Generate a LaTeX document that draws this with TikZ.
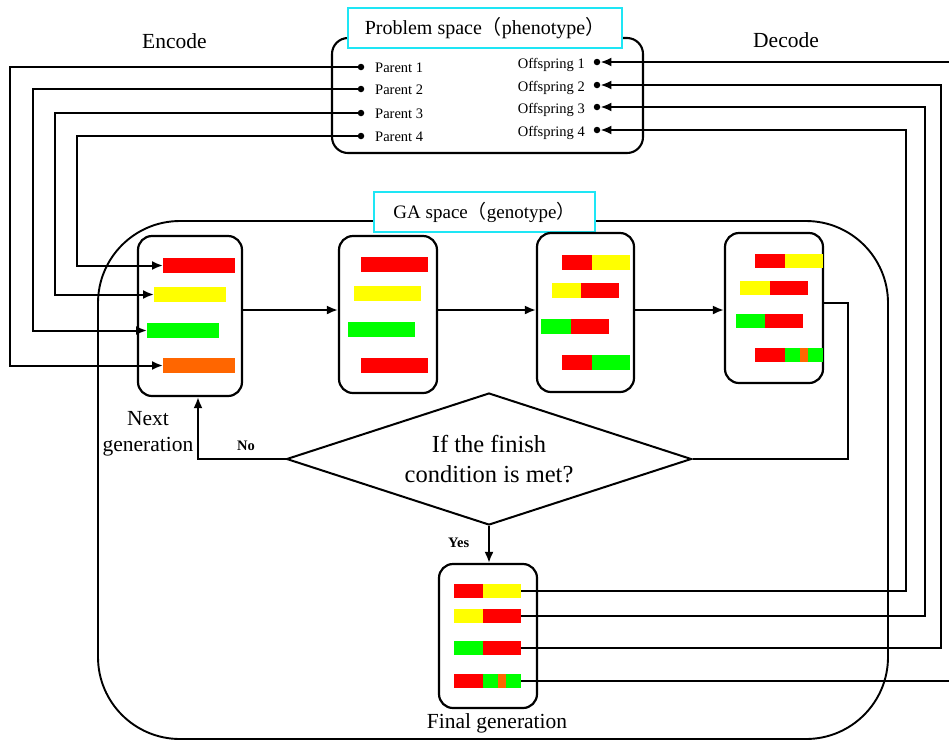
\documentclass[tikz,border=0pt]{standalone}
\usepackage{fontspec}
\setmainfont{Liberation Serif}
\newfontfamily\cjk{Noto Sans CJK SC}
\usetikzlibrary{arrows.meta,shapes.geometric}

\definecolor{gred}{RGB}{255,0,0}
\definecolor{gyellow}{RGB}{255,255,0}
\definecolor{ggreen}{RGB}{0,255,0}
\definecolor{gorange}{RGB}{255,102,0}
\definecolor{framecyan}{RGB}{30,230,245}

\begin{document}
\begin{tikzpicture}[x=1pt,y=-1pt,
  wire/.style={line width=2pt},
  arr/.style={line width=2pt,-{Latex[length=11pt,width=9pt]}},
  popbox/.style={draw,line width=2.2pt,rounded corners=14pt,inner sep=0pt},
  dot/.style={circle,fill=black,inner sep=0pt,minimum size=6.5pt},
  bar/.style={inner sep=0pt,minimum height=15pt,anchor=west},
  txt/.style={inner sep=0pt},
  small/.style={txt,font=\fontsize{14.5}{17}\selectfont},
  big/.style={txt,font=\fontsize{21.5}{26}\selectfont},
  tag/.style={draw=framecyan,fill=white,line width=1.6pt,inner sep=0pt,minimum height=40pt,font=\fontsize{20}{24}\selectfont}
]
\useasboundingbox (0,0) rectangle (949,740);

% ---------------- problem space ----------------
\draw[line width=2.1pt,rounded corners=16pt] (332,38) rectangle (643,153);
\node[tag,minimum width=274pt] (ps) at (485,28) {Problem space{\cjk （}phenotype{\cjk ）}};

\foreach \i/\y in {1/67,2/89,3/113,4/136}{
  \node[dot] (p\i) at (361,\y) {};
  \node[small,anchor=base west] at (375,\y+5.5) {Parent \i};
}
\foreach \i/\y in {1/62,2/85,3/107,4/130}{
  \node[dot] (o\i) at (597,\y) {};
  \node[small,anchor=base east] at (585,\y+6) {Offspring \i};
}

\node[big,anchor=base west] (enc) at (142,48) {Encode};
\node[big,anchor=base west] (dec) at (753,47) {Decode};

% ---------------- GA space ----------------
\draw[line width=1.9pt,rounded corners=82pt] (98,221) rectangle (888,739);
\node[tag,minimum width=221pt,font=\fontsize{19}{23}\selectfont] (ga) at (484.5,212) {GA space{\cjk （}genotype{\cjk ）}};

% population boxes
\node[popbox,minimum width=104pt,minimum height=160pt] (b1) at (190,316) {};
\node[popbox,minimum width=98pt,minimum height=157pt] (b2) at (388,314.5) {};
\node[popbox,minimum width=97pt,minimum height=159pt] (b3) at (585.5,312.5) {};
\node[popbox,minimum width=98pt,minimum height=150pt] (b4) at (774,308) {};
\node[popbox,minimum width=98pt,minimum height=144pt] (bf) at (488,636) {};

% chromosomes: initial population
\node[bar,fill=gred,minimum width=72pt] (g1) at (163,265.5) {};
\node[bar,fill=gyellow,minimum width=72pt] (g2) at (154,294.5) {};
\node[bar,fill=ggreen,minimum width=72pt] (g3) at (147,330.5) {};
\node[bar,fill=gorange,minimum width=72pt] (g4) at (163,365.5) {};

% selected population
\fill[gred] (361,257) rectangle (428,272);
\fill[gyellow] (354,286) rectangle (421,301);
\fill[ggreen] (348,322) rectangle (415,337);
\fill[gred] (361,358) rectangle (428,373);

% after crossover
\fill[gred] (562,255) rectangle (592,270); \fill[gyellow] (592,255) rectangle (630,270);
\fill[gyellow] (552,283) rectangle (581,298); \fill[gred] (581,283) rectangle (619,298);
\fill[ggreen] (541,319) rectangle (571,334); \fill[gred] (571,319) rectangle (609,334);
\fill[gred] (562,355) rectangle (592,370); \fill[ggreen] (592,355) rectangle (630,370);

% after mutation
\fill[gred] (755,254) rectangle (785,268); \fill[gyellow] (785,254) rectangle (823,268);
\fill[gyellow] (740,281) rectangle (770,295); \fill[gred] (770,281) rectangle (808,295);
\fill[ggreen] (736,314) rectangle (765,328); \fill[gred] (765,314) rectangle (803,328);
\fill[gred] (755,348) rectangle (785,362); \fill[ggreen] (785,348) rectangle (800,362);
\fill[gorange] (800,348) rectangle (808,362); \fill[ggreen] (808,348) rectangle (823,362);

% final generation
\fill[gred] (454,584) rectangle (483,598); \fill[gyellow] (483,584) rectangle (521,598);
\fill[gyellow] (454,609) rectangle (483,623); \fill[gred] (483,609) rectangle (521,623);
\fill[ggreen] (454,641) rectangle (483,655); \fill[gred] (483,641) rectangle (521,655);
\fill[gred] (454,674) rectangle (483,688); \fill[ggreen] (483,674) rectangle (498,688);
\fill[gorange] (498,674) rectangle (506,688); \fill[ggreen] (506,674) rectangle (521,688);
\coordinate (f1) at (521,591);
\coordinate (f2) at (521,616);
\coordinate (f3) at (521,648);
\coordinate (f4) at (521,681);

% decision
\node[draw,diamond,line width=2pt,aspect=3.07,minimum width=405pt,minimum height=132pt,inner sep=0pt,
      align=center,font=\fontsize{24.5}{30}\selectfont] (d) at (489,459) {If the finish\\condition is met?};

\node[big,anchor=base] at (148,425) {Next};
\node[big,anchor=base] at (148,451) {generation};
\node[big,anchor=base] at (497,728) {Final generation};
\node[txt,anchor=base west,font=\fontsize{14.5}{17}\selectfont\bfseries] at (237,450) {No};
\node[txt,anchor=base west,font=\fontsize{14.5}{17}\selectfont\bfseries] at (448,547) {Yes};

% ---------------- connectors ----------------
\coordinate (ay) at (0,310);
\draw[arr] (b1.east |- ay) -- (b2.west |- ay);
\draw[arr] (b2.east |- ay) -- (b3.west |- ay);
\draw[arr] (b3.east |- ay) -- (b4.west |- ay);

% termination test loop
\coordinate (ly) at (0,303);
\coordinate (lx) at (848,0);
\draw[wire] (b4.east |- ly) -| (lx |- d.east) -- (d.east);
\coordinate (nx) at (198,0);
\draw[arr] (d.west) -| (nx |- b1.south);
\draw[arr] (d.south) -- (d.south |- bf.north);

% encoding
\coordinate (e1) at (10,0);
\coordinate (e2) at (33,0);
\coordinate (e3) at (55,0);
\coordinate (e4) at (77,0);
\draw[arr] (p1.center) -| (e1 |- g4.west) -- (g4.west);
\draw[arr] (p2.center) -| (e2 |- g3.west) -- (g3.west);
\draw[arr] (p3.center) -| (e3 |- g2.west) -- (g2.west);
\draw[arr] (p4.center) -| (e4 |- g1.west) -- (g1.west);

% decoding
\coordinate (r1) at (949,62);
\coordinate (r4) at (949,681);
\coordinate (k2) at (941,0);
\coordinate (k3) at (925,0);
\coordinate (k4) at (906,0);
\draw[arr] (r1) -- (o1);
\draw[arr] (f3) -| (k2 |- o2) -- (o2);
\draw[arr] (f2) -| (k3 |- o3) -- (o3);
\draw[arr] (f1) -| (k4 |- o4) -- (o4);
\draw[wire] (f4) -- (r4);
\end{tikzpicture}
\end{document}
